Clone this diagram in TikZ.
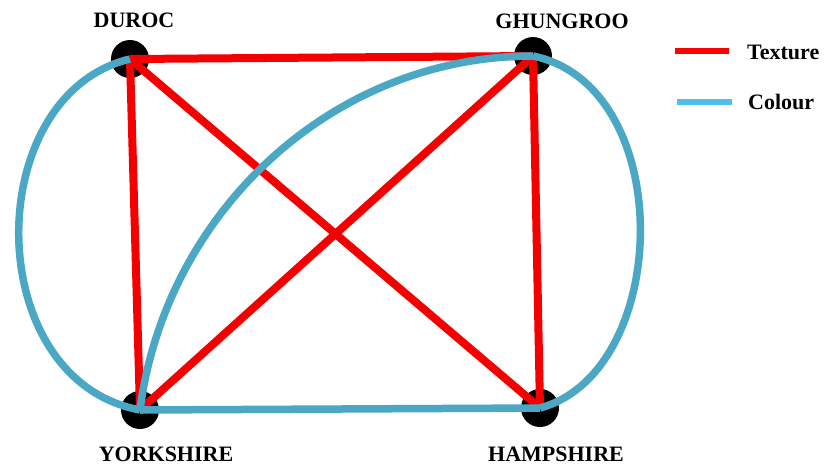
\documentclass[tikz,border=0pt]{standalone}
\usepackage{fontspec}
\setmainfont{Liberation Serif}
\definecolor{texred}{RGB}{243,0,0}
\definecolor{colblue}{RGB}{75,168,196}
\definecolor{legblue}{RGB}{80,190,235}
\begin{document}
\begin{tikzpicture}[x=1pt, y=-1pt,
    dot/.style={circle, fill=black, minimum size=38pt, inner sep=0pt},
    lbl/.style={font=\fontsize{22}{26}\selectfont\bfseries, inner sep=0pt},
    texture/.style={draw=texred, line width=8pt},
    colour/.style={draw=colblue, line width=7.5pt}]
    \useasboundingbox (0,0) rectangle (827,467);

    % 1. vertices
    \node[dot] (duroc)     at (130,59)  {};
    \node[dot] (ghungroo)  at (533,56)  {};
    \node[dot] (yorkshire) at (140,410) {};
    \node[dot] (hampshire) at (540,408) {};

    \node[lbl] (duroc-l)     at (134,20)  {DUROC};
    \node[lbl] (ghungroo-l)  at (562,21)  {GHUNGROO};
    \node[lbl] (yorkshire-l) at (166,454) {YORKSHIRE};
    \node[lbl] (hampshire-l) at (556,454) {HAMPSHIRE};

    % 2. texture edges
    \draw[texture] (duroc.center) -- (ghungroo.center);
    \draw[texture] (duroc.center) -- (yorkshire.center);
    \draw[texture] (duroc.center) -- (hampshire.center);
    \draw[texture] (ghungroo.center) -- (yorkshire.center);
    \draw[texture] (ghungroo.center) -- (hampshire.center);

    % 3. colour edges (on top)
    \draw[colour] (duroc.center) .. controls (-20,95) and (-20,380) .. (yorkshire.center);
    \draw[colour] (yorkshire.center) .. controls (165,215) and (330,56) .. (ghungroo.center);
    \draw[colour] (ghungroo.center) .. controls (678,86) and (672,372) .. (hampshire.center);
    \draw[colour] (yorkshire.center) -- (hampshire.center);

    % 4. legend
    \coordinate (tex-a) at (675,51);
    \coordinate (tex-b) at (729,51);
    \coordinate (col-a) at (677,102);
    \coordinate (col-b) at (732,102);
    \draw[draw=red, line width=6pt] (tex-a) -- (tex-b);
    \draw[draw=legblue, line width=6pt] (col-a) -- (col-b);
    \node[lbl, anchor=west] (tex-l) at (747,52)  {Texture};
    \node[lbl, anchor=west] (col-l) at (748,102) {Colour};
\end{tikzpicture}
\end{document}
